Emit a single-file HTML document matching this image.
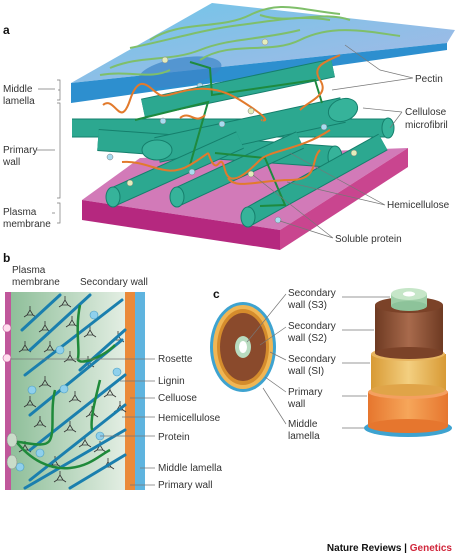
<!DOCTYPE html>
<html><head><meta charset="utf-8">
<style>
html,body{margin:0;padding:0;background:#fff;}
svg{display:block;font-family:"Liberation Sans",sans-serif;}
.lb{font-size:10px;fill:#333;}
.ln{stroke:#777;stroke-width:0.7;fill:none;}
</style></head>
<body>
<svg width="455" height="557" viewBox="0 0 455 557">
<defs>
<linearGradient id="blueTop" x1="0" y1="0" x2="1" y2="1"><stop offset="0" stop-color="#6fc6e8"/><stop offset="1" stop-color="#a9b8e6"/></linearGradient>
<linearGradient id="bgreen" x1="0" y1="0" x2="1" y2="0"><stop offset="0" stop-color="#8fbf9a"/><stop offset="1" stop-color="#e3eee3"/></linearGradient>
<linearGradient id="brown" x1="0" y1="0" x2="1" y2="0"><stop offset="0" stop-color="#6e3a22"/><stop offset="0.5" stop-color="#a86a4c"/><stop offset="1" stop-color="#6e3a22"/></linearGradient>
<linearGradient id="gold" x1="0" y1="0" x2="1" y2="0"><stop offset="0" stop-color="#d89a35"/><stop offset="0.5" stop-color="#f3cf80"/><stop offset="1" stop-color="#d89a35"/></linearGradient>
<linearGradient id="orng" x1="0" y1="0" x2="1" y2="0"><stop offset="0" stop-color="#e6762e"/><stop offset="0.5" stop-color="#f6a65a"/><stop offset="1" stop-color="#e6762e"/></linearGradient>
<g id="lig"><path d="M0,0 L-3,5 L3,5 Z M0,0 V-4 M-3,5 L-6,7 M3,5 L6,7" fill="none" stroke="#333" stroke-width="0.8"/></g>
</defs>

<g>
<text x="3" y="34" font-size="12" font-weight="bold" fill="#111">a</text>
<g>
<polygon points="82,200 140,158 408,148 280,230" fill="#d27ab8"/>
<polygon points="82,200 280,230 280,250 82,220" fill="#b5287f"/>
<polygon points="280,230 408,148 408,167 280,250" fill="#c9458f"/>
</g>
<g>
<polygon points="71,83 212,3 455,30 447,43" fill="url(#blueTop)"/>
<polygon points="71,83 447,43 447,50 71,103" fill="#2d8fcf"/>
<ellipse cx="180" cy="72" rx="42" ry="14" fill="#3c84c8" opacity="0.7" transform="rotate(-10 180 72)"/>
<g stroke="#7fbf6a" stroke-width="2" fill="none">
<path d="M110,68 C140,55 170,62 200,50 S260,40 300,30"/>
<path d="M130,48 C170,40 200,30 240,25 S300,15 330,20"/>
<path d="M150,40 C180,20 220,30 250,15 S300,10 340,14"/>
<path d="M100,75 C130,70 150,80 170,70"/>
<path d="M200,60 C230,40 270,55 300,40 S360,30 400,36"/>
<path d="M260,15 C290,25 320,10 350,20"/>
</g>
<circle cx="265" cy="42" r="3" fill="#e4edbb" stroke="#888" stroke-width="0.5"/>
<circle cx="165" cy="60" r="3" fill="#e4edbb" stroke="#888" stroke-width="0.5"/>
<circle cx="200" cy="86" r="3" fill="#a8dcf0" stroke="#888" stroke-width="0.5"/>
</g>
<g stroke-linecap="butt">
<g stroke="#157f6c" stroke-width="19"><line x1="143" y1="108" x2="333" y2="68"/></g>
<g stroke="#2ca890" stroke-width="17"><line x1="143" y1="108" x2="333" y2="68"/></g>
<g stroke="#157f6c" stroke-width="19"><line x1="72" y1="128" x2="388" y2="128"/></g>
<g stroke="#2ca890" stroke-width="17"><line x1="72" y1="128" x2="388" y2="128"/></g>
<ellipse cx="388" cy="128" rx="6" ry="10" fill="#36b39a" stroke="#157f6c"/>
<g stroke="#157f6c" stroke-width="22"><line x1="98" y1="140" x2="335" y2="157"/></g>
<g stroke="#2ca890" stroke-width="20"><line x1="98" y1="140" x2="335" y2="157"/></g>
<ellipse cx="335" cy="157" rx="7" ry="11" fill="#36b39a" stroke="#157f6c"/>
<g stroke="#157f6c" stroke-width="26"><line x1="157" y1="150" x2="343" y2="110"/></g>
<g stroke="#2ca890" stroke-width="24"><line x1="157" y1="150" x2="343" y2="110"/></g>
<ellipse cx="157" cy="150" rx="15" ry="10" fill="#36b39a" stroke="#157f6c"/>
<ellipse cx="343" cy="110" rx="15" ry="11" fill="#36b39a" stroke="#157f6c" transform="rotate(-20 343 110)"/>
<g stroke="#157f6c" stroke-width="19">
<line x1="113" y1="197" x2="240" y2="140"/><line x1="177" y1="197" x2="300" y2="140"/><line x1="248" y1="217" x2="383" y2="142"/></g>
<g stroke="#2ca890" stroke-width="17">
<line x1="113" y1="197" x2="240" y2="140"/><line x1="177" y1="197" x2="300" y2="140"/><line x1="248" y1="217" x2="383" y2="142"/></g>
<ellipse cx="113" cy="197" rx="7" ry="10" fill="#36b39a" stroke="#157f6c"/>
<ellipse cx="177" cy="197" rx="7" ry="10" fill="#36b39a" stroke="#157f6c"/>
<ellipse cx="248" cy="217" rx="7" ry="10" fill="#36b39a" stroke="#157f6c"/>
</g>
<g stroke="#1e8a3e" stroke-width="2" fill="none">
<polyline points="190,62 210,68 212,95 315,80 322,103"/>
<polyline points="135,120 208,102 190,165"/>
<polyline points="215,153 265,158 285,205 260,206"/>
</g>
<g stroke="#e27a2c" stroke-width="2" fill="none">
<path d="M103,105 C115,95 120,130 130,100 S150,90 160,95 S200,75 240,100 S260,120 262,120"/>
<path d="M122,162 C150,160 165,180 190,165 S205,150 212,162 S220,150 225,170 S250,170 260,160 S300,150 330,130"/>
<path d="M228,178 C235,190 260,180 290,180 S310,160 320,150"/>
<path d="M300,110 C310,100 330,95 320,80 S330,60 340,55"/>
<path d="M180,118 C190,110 195,125 205,115"/>
</g>
<g stroke="#777" stroke-width="0.5">
<circle cx="163" cy="121" r="3" fill="#a8dcf0"/><circle cx="222" cy="124" r="3" fill="#a8dcf0"/>
<circle cx="110" cy="157" r="3" fill="#a8dcf0"/><circle cx="192" cy="172" r="3" fill="#a8dcf0"/>
<circle cx="278" cy="220" r="3" fill="#a8dcf0"/><circle cx="324" cy="127" r="3" fill="#a8dcf0"/>
<circle cx="251" cy="111" r="3" fill="#e4edbb"/><circle cx="130" cy="183" r="3" fill="#e4edbb"/>
<circle cx="251" cy="174" r="3" fill="#e4edbb"/><circle cx="354" cy="153" r="3" fill="#e4edbb"/>
</g>
<g>
<text class="lb" x="3" y="92">Middle</text><text class="lb" x="3" y="104">lamella</text>
<text class="lb" x="3" y="153">Primary</text><text class="lb" x="3" y="165">wall</text>
<text class="lb" x="3" y="215">Plasma</text><text class="lb" x="3" y="227">membrane</text>
<path class="ln" d="M38,89 H55 M57,80 H60 V100 H57 M58,90 H60 M36,150 H55 M57,103 H60 V198 H57 M52,213 H55 M57,203 H60 V223 H57"/>
</g>
<g>
<text class="lb" x="415" y="82">Pectin</text>
<text class="lb" x="405" y="115">Cellulose</text><text class="lb" x="405" y="128">microfibril</text>
<text class="lb" x="387" y="208">Hemicellulose</text>
<text class="lb" x="335" y="242">Soluble protein</text>
<path class="ln" d="M413,78 L380,70 L345,45 M413,78 L332,90 M402,112 L390,128 M402,112 L363,108 M385,205 L290,153 M385,205 L287,182 M333,238 L280,221 M333,238 L253,175"/>
</g>
</g>

<g>
<text x="3" y="262" font-size="12" font-weight="bold" fill="#111">b</text>
<text class="lb" x="12" y="273">Plasma</text><text class="lb" x="12" y="285">membrane</text>
<text class="lb" x="80" y="285">Secondary wall</text>
<rect x="11" y="292" width="114" height="198" fill="url(#bgreen)"/>
<rect x="5" y="292" width="6" height="198" fill="#c0579b"/>
<rect x="125" y="292" width="10" height="198" fill="#ea8a3a"/>
<rect x="135" y="292" width="10" height="198" fill="#5fb4df"/>
<g>
<use href="#lig" x="65" y="300"/><use href="#lig" x="30" y="310"/><use href="#lig" x="45" y="325"/>
<use href="#lig" x="25" y="345"/><use href="#lig" x="50" y="345"/><use href="#lig" x="72" y="320"/>
<use href="#lig" x="90" y="330"/><use href="#lig" x="118" y="335"/><use href="#lig" x="70" y="355"/>
<use href="#lig" x="88" y="360"/><use href="#lig" x="30" y="400"/><use href="#lig" x="45" y="380"/>
<use href="#lig" x="110" y="390"/><use href="#lig" x="75" y="395"/><use href="#lig" x="120" y="405"/>
<use href="#lig" x="70" y="425"/><use href="#lig" x="85" y="440"/><use href="#lig" x="100" y="445"/>
<use href="#lig" x="25" y="445"/><use href="#lig" x="55" y="460"/><use href="#lig" x="108" y="462"/>
<use href="#lig" x="60" y="475"/><use href="#lig" x="40" y="420"/><use href="#lig" x="92" y="410"/>
</g>
<g stroke="#1a7fae" stroke-width="3" stroke-linecap="round">
<line x1="22" y1="330" x2="60" y2="295"/><line x1="30" y1="350" x2="90" y2="295"/>
<line x1="25" y1="375" x2="122" y2="300"/><line x1="30" y1="415" x2="122" y2="340"/>
<line x1="30" y1="450" x2="125" y2="375"/><line x1="30" y1="480" x2="125" y2="405"/>
<line x1="25" y1="488" x2="125" y2="430"/><line x1="70" y1="488" x2="125" y2="455"/>
<line x1="80" y1="370" x2="125" y2="330"/>
</g>
<g stroke="#1f8a3a" stroke-width="2.5" fill="none">
<path d="M80,305 C75,330 80,350 78,358 S100,360 115,345"/>
<path d="M100,380 C95,400 90,420 92,430"/>
<path d="M55,390 C50,410 55,430 50,440 S20,440 12,442"/>
<path d="M15,440 C30,460 50,470 70,468 S100,455 110,450"/>
</g>
<g fill="#8fd0ec" stroke="#4a9cc0" stroke-width="0.6">
<circle cx="94" cy="315" r="4"/><circle cx="60" cy="350" r="4"/><circle cx="117" cy="372" r="4"/>
<circle cx="32" cy="390" r="4"/><circle cx="64" cy="389" r="4"/><circle cx="100" cy="436" r="4"/>
<circle cx="40" cy="453" r="4"/><circle cx="20" cy="467" r="4"/>
</g>
<g fill="#fde" stroke="#c0579b" stroke-width="0.6">
<circle cx="7" cy="328" r="4"/><circle cx="7" cy="358" r="4"/>
</g>
<g fill="#c9dcc9" stroke="#888" stroke-width="0.5"><ellipse cx="12" cy="440" rx="5" ry="7"/><ellipse cx="12" cy="462" rx="5" ry="7"/></g>
<g>
<text class="lb" x="158" y="362">Rosette</text><text class="lb" x="158" y="384">Lignin</text>
<text class="lb" x="158" y="401">Celluose</text><text class="lb" x="158" y="421">Hemicellulose</text>
<text class="lb" x="158" y="440">Protein</text><text class="lb" x="158" y="471">Middle lamella</text>
<text class="lb" x="158" y="488">Primary wall</text>
<path class="ln" d="M10,359 H155 M120,381 H155 M130,398 H155 M122,417 H155 M100,436 H155 M140,468 H155 M130,485 H155"/>
</g>
</g>

<g>
<text x="213" y="298" font-size="12" font-weight="bold" fill="#111">c</text>
<g>
<ellipse cx="243" cy="347" rx="33" ry="45" fill="#3ea3d0"/>
<ellipse cx="243" cy="347" rx="30" ry="42" fill="#f0b654"/>
<ellipse cx="243" cy="347" rx="26" ry="38" fill="#d58c2c"/>
<ellipse cx="243" cy="347" rx="23" ry="34" fill="#8a4a2c"/>
<ellipse cx="243" cy="347" rx="8" ry="11" fill="#b8dcc0"/>
<ellipse cx="243" cy="347" rx="4" ry="6" fill="#fff"/>
</g>
<g>
<text class="lb" x="288" y="296">Secondary</text><text class="lb" x="288" y="308">wall (S3)</text>
<text class="lb" x="288" y="329">Secondary</text><text class="lb" x="288" y="341">wall (S2)</text>
<text class="lb" x="288" y="362">Secondary</text><text class="lb" x="288" y="374">wall (SI)</text>
<text class="lb" x="288" y="395">Primary</text><text class="lb" x="288" y="407">wall</text>
<text class="lb" x="288" y="427">Middle</text><text class="lb" x="288" y="439">lamella</text>
<path class="ln" d="M286,294 L247,342 M286,327 L260,345 M286,360 L270,352 M286,392 L265,377 M286,424 L263,388"/>
<path class="ln" d="M342,297 H390 M342,330 H374 M342,363 H370 M342,396 H367 M342,428 H365"/>
</g>
<g>
<ellipse cx="408" cy="428" rx="44" ry="9" fill="#3ea3d0"/>
<rect x="368" y="392" width="80" height="34" fill="url(#orng)"/>
<ellipse cx="408" cy="426" rx="40" ry="7" fill="#e6762e"/>
<ellipse cx="408" cy="392" rx="40" ry="7" fill="#f4a060"/>
<rect x="371" y="354" width="75" height="36" fill="url(#gold)"/>
<ellipse cx="408" cy="390" rx="37" ry="6" fill="#e0a448"/>
<ellipse cx="408" cy="354" rx="37" ry="7" fill="#e8b560"/>
<rect x="375" y="305" width="68" height="48" fill="url(#brown)"/>
<ellipse cx="409" cy="353" rx="34" ry="6" fill="#7b4228"/>
<ellipse cx="409" cy="305" rx="34" ry="8" fill="#7b4228"/>
<rect x="391" y="294" width="36" height="12" fill="#9fcfa8"/>
<ellipse cx="409" cy="306" rx="18" ry="5" fill="#8dc39a"/>
<ellipse cx="409" cy="294" rx="18" ry="6" fill="#c6e6c8"/>
<ellipse cx="409" cy="294" rx="6" ry="2.5" fill="#fff"/>
</g>
</g>

<text x="452" y="551" text-anchor="end" font-size="10" font-weight="bold" fill="#111">Nature Reviews | <tspan fill="#d0263b">Genetics</tspan></text>
</svg>
</body></html>
